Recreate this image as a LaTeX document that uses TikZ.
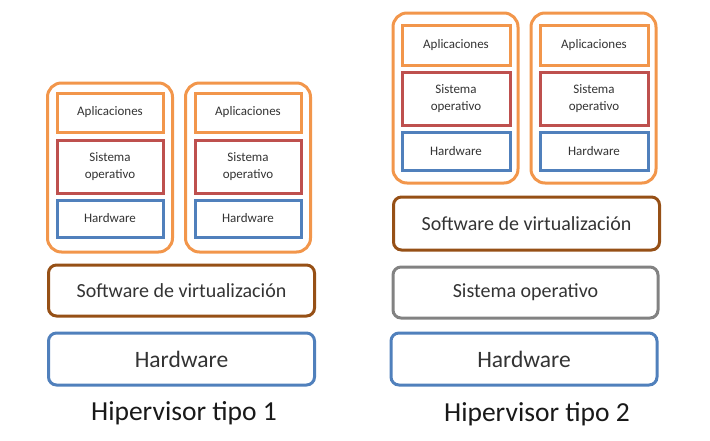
\documentclass[tikz,border=0pt]{standalone}
\usepackage{fontspec}
\setmainfont{Carlito}
\usetikzlibrary{positioning}

\definecolor{vmorange}{RGB}{242,150,75}
\definecolor{osred}{RGB}{190,80,78}
\definecolor{hwblue}{RGB}{80,128,188}
\definecolor{swbrown}{RGB}{150,80,22}
\definecolor{osgray}{RGB}{130,130,130}

\tikzset{
  vmbox/.style={draw=vmorange, line width=3pt, rounded corners=14pt,
    minimum width=125pt, minimum height=169pt},
  layer/.style={draw, line width=3pt, minimum width=106pt,
    font=\fontsize{13}{17}\selectfont, align=center, text=black!80},
  stack/.style={draw, line width=3pt, rounded corners=8pt,
    minimum width=266pt, minimum height=52pt, text=black!80},
  caption/.style={font=\fontsize{27.5}{32}\selectfont, text=black!90}
}

\begin{document}
\begin{tikzpicture}[x=1pt,y=-1pt]
  \useasboundingbox (0,0) rectangle (710,440);

  % Hipervisor tipo 1
  \node (vm1) [vmbox] at (110,167.5) {};
  \node (vm2) [vmbox] at (248,167.5) {};
  \node (app1) [layer, draw=vmorange, minimum height=39pt] at (110,112.5) {Aplicaciones};
  \node (os1)  [layer, draw=osred, minimum height=53pt] at (110,166.5) {Sistema\\operativo};
  \node (hw1)  [layer, draw=hwblue, minimum height=37pt] at (110,218.5) {Hardware};
  \node (app2) [layer, draw=vmorange, minimum height=39pt] at (248,112.5) {Aplicaciones};
  \node (os2)  [layer, draw=osred, minimum height=53pt] at (248,166.5) {Sistema\\operativo};
  \node (hw2)  [layer, draw=hwblue, minimum height=37pt] at (248,218.5) {Hardware};
  \node (sw1) [stack, draw=swbrown, minimum height=51pt, font=\fontsize{20}{24}\selectfont] at (181.5,290.5) {Software de virtualización};
  \node (hwA) [stack, draw=hwblue, font=\fontsize{23.5}{28}\selectfont] at (181.5,359) {Hardware};
  \node (t1) [caption] at (184,413) {Hipervisor tipo 1};

  % Hipervisor tipo 2
  \node (vm3) [vmbox, minimum height=170pt] at (455.5,98) {};
  \node (vm4) [vmbox, minimum height=170pt] at (593.5,98) {};
  \node (app3) [layer, draw=vmorange, minimum height=40pt, minimum width=108pt] at (456,45) {Aplicaciones};
  \node (os3)  [layer, draw=osred, minimum height=53pt, minimum width=108pt] at (456,98.5) {Sistema\\operativo};
  \node (hw3)  [layer, draw=hwblue, minimum height=38pt, minimum width=108pt] at (456,151) {Hardware};
  \node (app4) [layer, draw=vmorange, minimum height=40pt, minimum width=108pt] at (594,45) {Aplicaciones};
  \node (os4)  [layer, draw=osred, minimum height=53pt, minimum width=108pt] at (594,98.5) {Sistema\\operativo};
  \node (hw4)  [layer, draw=hwblue, minimum height=38pt, minimum width=108pt] at (594,151) {Hardware};
  \node (sw2) [stack, draw=swbrown, minimum height=53pt, font=\fontsize{20}{24}\selectfont] at (526.5,223.5) {Software de virtualización};
  \node (os5) [stack, draw=osgray, minimum width=265pt, minimum height=51pt, font=\fontsize{20}{24}\selectfont] at (525.5,292.5) {Sistema operativo};
  \node (hwB) [stack, draw=hwblue, font=\fontsize{23.5}{28}\selectfont] at (524,359) {Hardware};
  \node (t2) [caption] at (537,414) {Hipervisor tipo 2};
\end{tikzpicture}
\end{document}
